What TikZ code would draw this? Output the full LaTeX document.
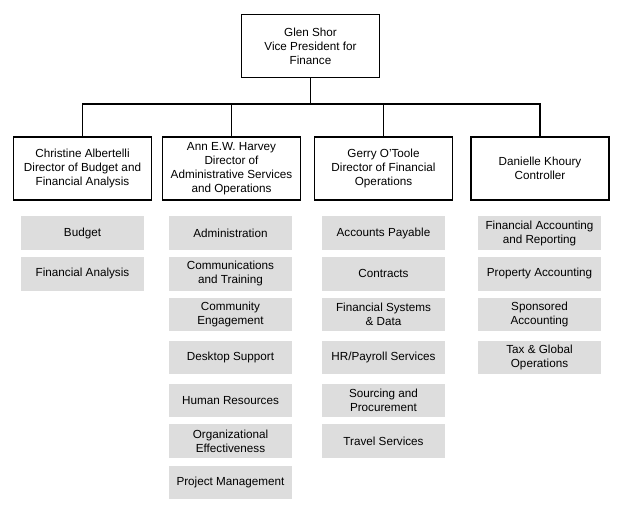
\documentclass[tikz,border=0pt]{standalone}
\usepackage{fontspec}
\setmainfont{Liberation Sans}
\usetikzlibrary{positioning}
\colorlet{unitfill}{gray!27}

\begin{document}
\begin{tikzpicture}[
      x=1pt, y=-1pt,
      node distance=7pt,
      head/.style={draw, line width=1.2pt, align=center,
                   font=\fontsize{11.7}{14}\selectfont,
                   minimum width=138pt, minimum height=63pt, inner sep=1pt},
      unit/.style={fill=unitfill, align=center,
                   font=\fontsize{11.7}{14}\selectfont,
                   minimum width=123pt, minimum height=33.5pt, inner sep=1pt},
      link/.style={line width=1.2pt}
    ]
    \useasboundingbox (0,0) rectangle (623,508);

    \node[head] (vp) at (310.5,46) {Glen Shor\\Vice President for\\Finance};

    \node[head] (budgetdir) at (82.5,168.5) {Christine Albertelli\\Director of Budget and\\Financial Analysis};
    \node[head] (admindir) at (231.5,168.5) {Ann E.W. Harvey\\Director of\\Administrative Services\\and Operations};
    \node[head] (finopsdir) at (383.5,168.5) {Gerry O'Toole\\Director of Financial\\Operations};
    \node[head] (controller) at (540,168.5) {Danielle Khoury\\Controller};

    \foreach \d in {budgetdir,admindir,finopsdir,controller}
      \draw[link] (vp.south) -- ++(0,-26pt) -| (\d.north);

    % budget and financial analysis
    \node[unit] (budget) at (82.5,233) {Budget};
    \node[unit, below=of budget] (finanalysis) {Financial Analysis};

    % administrative services and operations
    \node[unit] (administration) at (230.5,233) {Administration};
    \node[unit, below=of administration] (commtraining) {Communications\\and Training};
    \node[unit, below=6.5pt of commtraining] (community) {Community\\Engagement};
    \node[unit, below=9.5pt of community] (desktop) {Desktop Support};
    \node[unit, below=9pt of desktop] (humanres) {Human Resources};
    \node[unit, below=6.5pt of humanres] (orgeffect) {Organizational\\Effectiveness};
    \node[unit, below=7.5pt of orgeffect] (projmgmt) {Project Management};

    % financial operations
    \node[unit] (payable) at (383.5,233) {Accounts Payable};
    \node[unit, below=of payable] (contracts) {Contracts};
    \node[unit, below=6.5pt of contracts] (finsystems) {Financial Systems\\\& Data};
    \node[unit, below=9.5pt of finsystems] (payroll) {HR/Payroll Services};
    \node[unit, below=9pt of payroll] (sourcing) {Sourcing and\\Procurement};
    \node[unit, below=6.5pt of sourcing] (travel) {Travel Services};

    % controller
    \node[unit] (reporting) at (539.5,233) {Financial Accounting\\and Reporting};
    \node[unit, below=of reporting] (property) {Property Accounting};
    \node[unit, below=6.5pt of property] (sponsored) {Sponsored\\Accounting};
    \node[unit, below=9.5pt of sponsored] (taxglobal) {Tax \& Global\\Operations};
  \end{tikzpicture}
\end{document}
